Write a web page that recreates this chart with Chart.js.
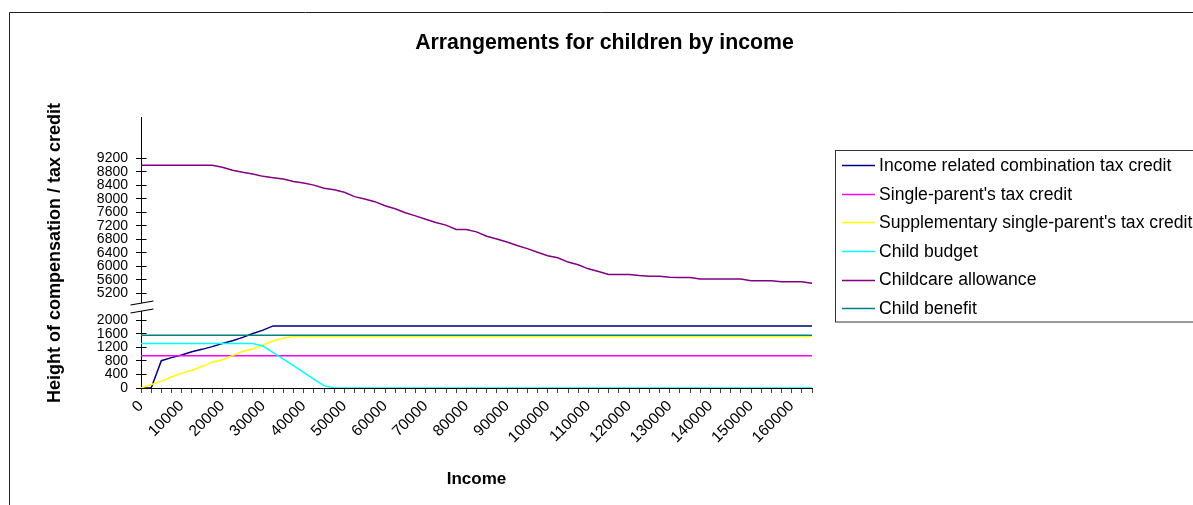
<!DOCTYPE html>
<html><head><meta charset="utf-8">
<script src="https://cdn.jsdelivr.net/npm/chart.js@4/dist/chart.umd.min.js"></script>
<style>html,body{margin:0;padding:0;background:#fff;overflow:hidden}#wrap{width:1193px;height:505px;position:relative}</style>
</head><body><div id="wrap"><canvas id="c" width="1193" height="505"></canvas></div>
<script>
// ---------- data ----------
const incomes = [0,2500,5000,7500,10000,12500,15000,17500,20000,22500,25000,27500,30000,32500,35000,37500,40000,42500,45000,47500,50000,52500,55000,57500,60000,62500,65000,67500,70000,72500,75000,77500,80000,82500,85000,87500,90000,92500,95000,97500,100000,102500,105000,107500,110000,112500,115000,117500,120000,122500,125000,127500,130000,132500,135000,137500,140000,142500,145000,147500,150000,152500,155000,157500,160000,162500,165000];
const xTickLabels = ['0','10000','20000','30000','40000','50000','60000','70000','80000','90000','100000','110000','120000','130000','140000','150000','160000'];
const yLowerTicks = [0,400,800,1200,1600,2000];
const yUpperTicks = [5200,5600,6000,6400,6800,7200,7600,8000,8400,8800,9200];
const BREAK_OFFSET = 2400; // values above the axis break are shifted down by this amount

const incomeRelatedCombination = [0,0,810,900,980,1075,1145,1225,1320,1400,1500,1615,1715,1840,1840,1840,1840,1840,1840,1840,1840,1840,1840,1840,1840,1840,1840,1840,1840,1840,1840,1840,1840,1840,1840,1840,1840,1840,1840,1840,1840,1840,1840,1840,1840,1840,1840,1840,1840,1840,1840,1840,1840,1840,1840,1840,1840,1840,1840,1840,1840,1840,1840,1840,1840,1840,1840];
const singleParent = [955,955,955,955,955,955,955,955,955,955,955,955,955,955,955,955,955,955,955,955,955,955,955,955,955,955,955,955,955,955,955,955,955,955,955,955,955,955,955,955,955,955,955,955,955,955,955,955,955,955,955,955,955,955,955,955,955,955,955,955,955,955,955,955,955,955,955];
const supplementarySingleParent = [0,105,195,325,440,520,635,765,835,960,1080,1155,1275,1400,1470,1525,1525,1525,1525,1525,1525,1525,1525,1525,1525,1525,1525,1525,1525,1525,1525,1525,1525,1525,1525,1525,1525,1525,1525,1525,1525,1525,1525,1525,1525,1525,1525,1525,1525,1525,1525,1525,1525,1525,1525,1525,1525,1525,1525,1525,1525,1525,1525,1525,1525,1525,1525];
const childBudget = [1320,1320,1320,1320,1320,1320,1320,1320,1320,1320,1320,1320,1245,1050,855,660,460,265,70,0,0,0,0,0,0,0,0,0,0,0,0,0,0,0,0,0,0,0,0,0,0,0,0,0,0,0,0,0,0,0,0,0,0,0,0,0,0,0,0,0,0,0,0,0,0,0,0];
const childcareAllowance = [9000,9000,9000,9000,9000,9000,9000,9000,8940,8850,8790,8740,8670,8630,8590,8520,8470,8410,8320,8270,8200,8070,8000,7920,7800,7710,7590,7500,7400,7305,7225,7095,7095,7025,6895,6815,6725,6620,6530,6420,6320,6260,6130,6050,5930,5850,5760,5760,5760,5730,5710,5710,5680,5670,5670,5630,5630,5630,5630,5630,5580,5580,5580,5550,5550,5550,5500];
const childBenefit = [1565,1565,1565,1565,1565,1565,1565,1565,1565,1565,1565,1565,1565,1565,1565,1565,1565,1565,1565,1565,1565,1565,1565,1565,1565,1565,1565,1565,1565,1565,1565,1565,1565,1565,1565,1565,1565,1565,1565,1565,1565,1565,1565,1565,1565,1565,1565,1565,1565,1565,1565,1565,1565,1565,1565,1565,1565,1565,1565,1565,1565,1565,1565,1565,1565,1565,1565];

const seriesNames = ['Income related combination tax credit',"Single-parent's tax credit","Supplementary single-parent's tax credit",'Child budget','Childcare allowance','Child benefit'];
const seriesValues = [incomeRelatedCombination, singleParent, supplementarySingleParent, childBudget, childcareAllowance, childBenefit];
const seriesColors = ['#000080','#FF00FF','#FFFF00','#00FFFF','#800080','#008080'];

// ---------- helpers ----------
const toAxis = v => v >= 5000 ? v - BREAK_OFFSET : v;
const fromAxis = a => a > 2400 ? a + BREAK_OFFSET : a;
const FONT = "'Liberation Sans', Arial, sans-serif";

const decor = {
  id: 'decor',
  beforeDraw(chart) {
    const ctx = chart.ctx;
    ctx.save();
    ctx.strokeStyle = '#222';
    ctx.lineWidth = 1;
    ctx.beginPath();
    ctx.moveTo(9.5, 505); ctx.lineTo(9.5, 12.5); ctx.lineTo(1193, 12.5);
    ctx.stroke();
    ctx.restore();
  },
  afterDraw(chart) {
    const ctx = chart.ctx;
    const ys = chart.scales.y;
    const ax = Math.round(ys.right - 0.5) + 0.5;
    ctx.save();
    // inner half of cross tick marks
    ctx.strokeStyle = '#000';
    ctx.lineWidth = 1;
    ys.ticks.forEach(t => {
      const p = Math.round(ys.getPixelForValue(t.value) - 0.5) + 0.5;
      ctx.beginPath(); ctx.moveTo(ax, p); ctx.lineTo(ax + 5, p); ctx.stroke();
    });
    // axis break
    const yb = ys.getPixelForValue(2400);
    const x0 = ax - 11, x1 = ax + 12;
    ctx.fillStyle = '#fff';
    ctx.beginPath();
    ctx.moveTo(x0, yb - 2); ctx.lineTo(x1, yb - 6); ctx.lineTo(x1, yb + 2); ctx.lineTo(x0, yb + 6);
    ctx.closePath(); ctx.fill();
    ctx.strokeStyle = '#000';
    ctx.lineWidth = 1.2;
    [-4, 4].forEach(d => {
      ctx.beginPath(); ctx.moveTo(x0, yb + d + 2); ctx.lineTo(x1, yb + d - 2); ctx.stroke();
    });
    // legend
    const lx = 835.5, ly = 150.5, lh = 171.5;
    ctx.strokeStyle = '#333';
    ctx.lineWidth = 1;
    ctx.strokeRect(lx, ly, 400, lh);
    ctx.font = '17.6px ' + FONT;
    ctx.textBaseline = 'middle';
    ctx.textAlign = 'left';
    chart.data.datasets.forEach((ds, i) => {
      const y = 165 + i * 28.65;
      ctx.strokeStyle = ds.borderColor;
      ctx.lineWidth = 1.5;
      ctx.beginPath(); ctx.moveTo(842, Math.round(y) + 0.5); ctx.lineTo(875, Math.round(y) + 0.5); ctx.stroke();
      ctx.fillStyle = '#000';
      ctx.fillText(ds.label, 879, y + 1);
    });
    ctx.restore();
  }
};

new Chart(document.getElementById('c'), {
  type: 'line',
  data: {
    labels: incomes.map(String),
    datasets: seriesNames.map((name, i) => ({
      label: name,
      data: seriesValues[i].map(toAxis),
      borderColor: seriesColors[i],
      backgroundColor: seriesColors[i],
      borderWidth: 1.5,
      pointRadius: 0,
      tension: 0,
      fill: false,
      order: seriesNames.length - i
    }))
  },
  options: {
    responsive: false,
    animation: false,
    layout: { padding: { left: 16, right: 0, top: 0, bottom: 0 } },
    plugins: {
      legend: { display: false },
      tooltip: { enabled: false },
      title: {
        display: true,
        text: 'Arrangements for children by income',
        color: '#000',
        font: { family: FONT, size: 21.3, weight: 'bold' },
        padding: { top: 30.2, bottom: 62.2 }
      }
    },
    scales: {
      x: {
        type: 'category',
        offset: false,
        grid: { display: true, drawOnChartArea: false, drawTicks: true, tickLength: 5, tickColor: '#444', lineWidth: 1 },
        border: { display: true, color: '#000', width: 1 },
        ticks: {
          autoSkip: false, maxRotation: 45, minRotation: 45, color: '#000', padding: 4,
          font: { family: FONT, size: 15.5 },
          callback: function(val, i) { return xTickLabels.includes(incomes[i].toString()) ? incomes[i].toString() : ''; }
        },
        title: { display: true, text: 'Income', color: '#000', font: { family: FONT, size: 17, weight: 'bold' }, padding: { top: 0, bottom: 15.8 } },
        afterFit: s => { s.height = 117; }
      },
      y: {
        type: 'linear',
        min: 0, max: 8000,
        afterBuildTicks: s => { s.ticks = yLowerTicks.concat(yUpperTicks.map(toAxis)).map(v => ({ value: v })); },
        grid: { display: true, drawOnChartArea: false, drawTicks: true, tickLength: 5, tickColor: '#000' },
        border: { display: true, color: '#000', width: 1 },
        ticks: { autoSkip: false, color: '#000', padding: 8, font: { family: FONT, size: 14 }, callback: v => String(fromAxis(v)) },
        title: { display: true, text: 'Height of compensation / tax credit', color: '#000', font: { family: FONT, size: 18, weight: 'bold' }, padding: { top: 28.2, bottom: 0 } },
        afterFit: s => { s.width = 125; }
      },
      y2: {
        type: 'linear', position: 'right', display: true,
        grid: { display: false }, border: { display: false }, ticks: { display: false },
        afterFit: s => { s.width = 381; }
      }
    }
  },
  plugins: [decor]
});
</script>
</body></html>
